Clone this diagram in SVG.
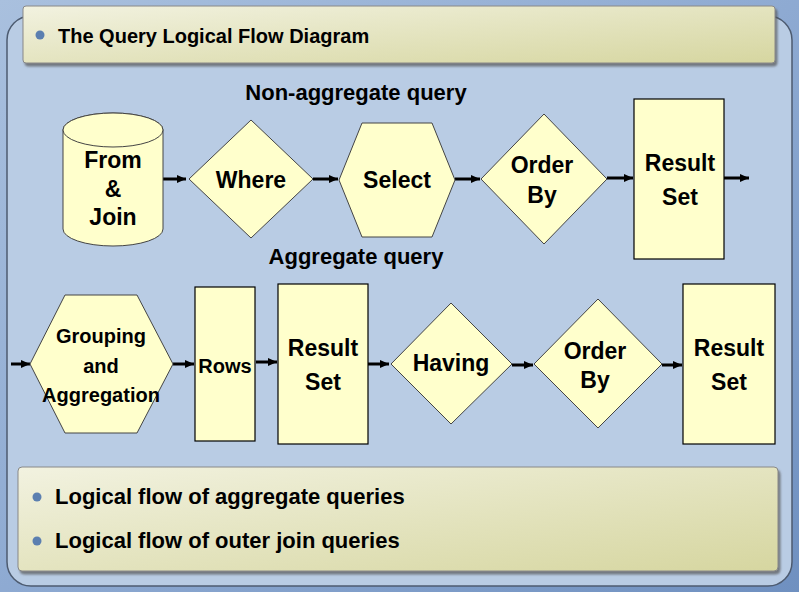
<svg xmlns="http://www.w3.org/2000/svg" width="799" height="592" viewBox="0 0 799 592">
<defs>
<linearGradient id="bg" x1="0" y1="0" x2="1" y2="1">
<stop offset="0" stop-color="#a9c0de"/>
<stop offset="0.5" stop-color="#8eaad2"/>
<stop offset="1" stop-color="#6f90c0"/>
</linearGradient>
<linearGradient id="box" x1="0" y1="0" x2="1" y2="1">
<stop offset="0" stop-color="#f2f2e0"/>
<stop offset="1" stop-color="#d6d6a0"/>
</linearGradient>
<marker id="ah" markerUnits="userSpaceOnUse" markerWidth="10" markerHeight="10" refX="9" refY="5" orient="auto">
<path d="M0,1 L9,5 L0,9 z" fill="#000"/>
</marker>
<filter id="sh" x="-5%" y="-5%" width="110%" height="130%">
<feDropShadow dx="2" dy="3" stdDeviation="0.8" flood-color="#555" flood-opacity="0.7"/>
</filter>
</defs>
<style>
.n{fill:#ffffcc;stroke:#000;stroke-width:1.2}
.p{fill:#ffffcc;stroke:#444;stroke-width:1}
.t{font-family:"Liberation Sans",Arial,sans-serif;font-weight:bold;font-size:23px;fill:#000;text-anchor:middle}
.s{font-size:20px}
.h{font-family:"Liberation Sans",Arial,sans-serif;font-weight:bold;font-size:22px;fill:#000}
.c line{stroke:#000;stroke-width:3;marker-end:url(#ah)}
</style>
<rect x="0" y="0" width="799" height="592" fill="url(#bg)"/>
<rect x="7" y="16" width="785" height="570" rx="24" fill="#b9cce4" stroke="#4d5b70" stroke-width="1.5"/>
<g id="title">
<rect x="23" y="6" width="752" height="57" rx="3" fill="url(#box)" stroke="#888" filter="url(#sh)"/>
<circle cx="40" cy="35" r="4.5" fill="#5b7fb0"/>
<text class="h" x="58" y="43" style="font-size:20px">The Query Logical Flow Diagram</text>
</g>
<text class="h" x="356" y="100" text-anchor="middle">Non-aggregate query</text>
<text class="h" x="356" y="264" text-anchor="middle">Aggregate query</text>
<g class="c">
<line x1="163" y1="179" x2="186" y2="179"/>
<line x1="313" y1="179" x2="338" y2="179"/>
<line x1="455" y1="179" x2="480" y2="179"/>
<line x1="607" y1="178" x2="633" y2="178"/>
<line x1="724" y1="178" x2="749" y2="178"/>
<line x1="11" y1="364" x2="30" y2="364"/>
<line x1="173" y1="364" x2="194" y2="364"/>
<line x1="256" y1="362" x2="277" y2="362"/>
<line x1="368" y1="364" x2="389" y2="364"/>
<line x1="512" y1="365" x2="533" y2="365"/>
<line x1="662" y1="365" x2="682" y2="365"/>
</g>
<g id="from">
<path class="p" d="M63,130 V229 A50,17 0 0 0 163,229 V130 A50,17 0 0 0 63,130 Z"/>
<ellipse class="p" cx="113" cy="130" rx="50" ry="17"/>
<text class="t" x="113" y="168">From</text>
<text class="t" x="113" y="197">&amp;</text>
<text class="t" x="113" y="225">Join</text>
</g>
<g id="where">
<polygon class="p" points="189,179 251,120 313,179 251,238"/>
<text class="t" x="251" y="188">Where</text>
</g>
<g id="select">
<polygon class="p" points="339,180 362,123 432,123 455,180 432,237 362,237"/>
<text class="t" x="397" y="188">Select</text>
</g>
<g id="orderby1">
<polygon class="p" points="481,179 544,114 607,179 544,244"/>
<text class="t" x="542" y="173">Order</text>
<text class="t" x="542" y="203">By</text>
</g>
<g id="result1">
<rect class="n" x="634" y="99" width="90" height="160"/>
<text class="t" x="680" y="171">Result</text>
<text class="t" x="680" y="205">Set</text>
</g>
<g id="grouping">
<polygon class="p" points="30,364 65,295 137,295 173,364 137,433 65,433"/>
<text class="t s" x="101" y="343">Grouping</text>
<text class="t s" x="101" y="373">and</text>
<text class="t s" x="101" y="402">Aggregation</text>
</g>
<g id="rows">
<rect class="n" x="195" y="287" width="60" height="154"/>
<text class="t s" x="225" y="373">Rows</text>
</g>
<g id="result2">
<rect class="n" x="278" y="284" width="90" height="160"/>
<text class="t" x="323" y="356">Result</text>
<text class="t" x="323" y="390">Set</text>
</g>
<g id="having">
<polygon class="p" points="391,364 451,303 512,364 451,424"/>
<text class="t" x="451" y="371">Having</text>
</g>
<g id="orderby2">
<polygon class="p" points="534,364 598,299 662,364 598,428"/>
<text class="t" x="595" y="359">Order</text>
<text class="t" x="595" y="388">By</text>
</g>
<g id="result3">
<rect class="n" x="683" y="284" width="92" height="160"/>
<text class="t" x="729" y="356">Result</text>
<text class="t" x="729" y="390">Set</text>
</g>
<g id="notes">
<rect x="18" y="467" width="760" height="104" rx="4" fill="url(#box)" stroke="#888" filter="url(#sh)"/>
<circle cx="37" cy="497" r="4.5" fill="#5b7fb0"/>
<text class="h" x="55" y="504">Logical flow of aggregate queries</text>
<circle cx="37" cy="541" r="4.5" fill="#5b7fb0"/>
<text class="h" x="55" y="548">Logical flow of outer join queries</text>
</g>
</svg>
